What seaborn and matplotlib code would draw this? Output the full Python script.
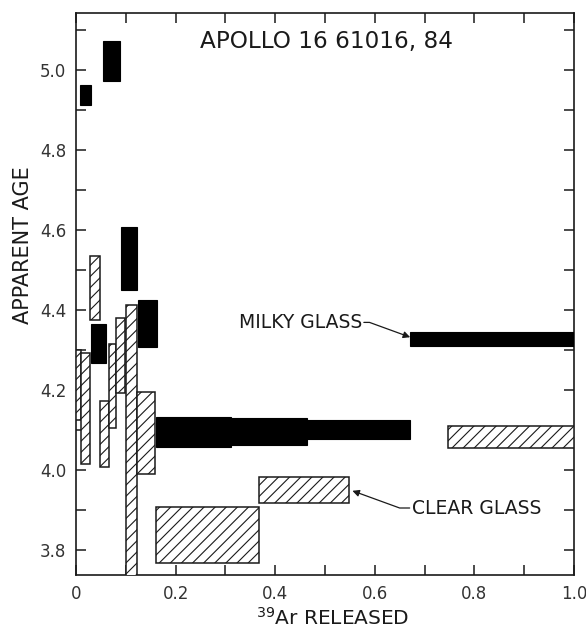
import matplotlib
matplotlib.use("Agg")
import matplotlib.pyplot as plt
import seaborn as sns

# ---- data: 39Ar release steps (fraction start/end) and apparent age range ----
milky_start = [0.009, 0.031, 0.055, 0.091, 0.125, 0.161, 0.311, 0.464, 0.671]
milky_end   = [0.031, 0.060, 0.089, 0.123, 0.163, 0.311, 0.464, 0.671, 1.000]
milky_low   = [4.913, 4.268, 4.973, 4.450, 4.308, 4.058, 4.063, 4.077, 4.310]
milky_high  = [4.962, 4.365, 5.073, 4.608, 4.425, 4.133, 4.129, 4.125, 4.346]

clear_start = [0.000, 0.011, 0.028, 0.049, 0.066, 0.081, 0.100, 0.122, 0.161, 0.368, 0.746]
clear_end   = [0.011, 0.028, 0.048, 0.066, 0.081, 0.099, 0.122, 0.159, 0.368, 0.549, 1.000]
clear_low   = [4.125, 4.015, 4.375, 4.008, 4.105, 4.193, 3.600, 3.990, 3.768, 3.917, 4.055]
clear_high  = [4.300, 4.293, 4.535, 4.173, 4.315, 4.380, 4.413, 4.195, 3.908, 3.983, 4.111]

x_ticks = [0, 0.2, 0.4, 0.6, 0.8, 1.0]
x_tick_labels = ["0", "0.2", "0.4", "0.6", "0.8", "1.0"]
y_ticks = [3.8, 4.0, 4.2, 4.4, 4.6, 4.8, 5.0]
y_tick_labels = ["3.8", "4.0", "4.2", "4.4", "4.6", "4.8", "5.0"]

title_text = "APOLLO 16 61016, 84"
milky_label = "MILKY GLASS"
clear_label = "CLEAR GLASS"
x_label = r"$^{39}$Ar RELEASED"
y_label = "APPARENT AGE"

# ---- style ----
sns.set_theme(style="ticks", rc={
    "xtick.direction": "in", "ytick.direction": "in",
    "xtick.top": True, "ytick.right": True,
    "axes.linewidth": 1.2, "hatch.linewidth": 0.8,
})
plt.rcParams["font.family"] = ["DejaVu Sans"]
ink = "#1a1a1a"

fig = plt.figure(figsize=(5.86, 6.35), dpi=100)
ax = fig.add_axes([76 / 586, 60 / 635, 498 / 586, 562 / 635])

# hatched clear-glass steps
ax.bar(clear_start, [h - l for h, l in zip(clear_high, clear_low)],
       width=[e - s for s, e in zip(clear_start, clear_end)], bottom=clear_low,
       align="edge", color="white", edgecolor=ink, linewidth=1.1, hatch="///",
       zorder=3)
# solid milky-glass steps
ax.bar(milky_start, [h - l for h, l in zip(milky_high, milky_low)],
       width=[e - s for s, e in zip(milky_start, milky_end)], bottom=milky_low,
       align="edge", color="black", edgecolor="black", linewidth=0.8, zorder=4)

ax.set_xlim(0, 1.0)
ax.set_ylim(3.7375, 5.1425)
ax.set_xticks(x_ticks)
ax.set_xticklabels(x_tick_labels)
ax.set_yticks(y_ticks)
ax.set_yticklabels(y_tick_labels)
ax.set_xticks([0.1, 0.3, 0.5, 0.7, 0.9], minor=True)
ax.set_yticks([3.9, 4.1, 4.3, 4.5, 4.7, 4.9, 5.1], minor=True)
ax.tick_params(which="both", direction="in", length=7, width=1.1, color=ink,
               top=True, right=True, labelsize=12, labelcolor="#333333", pad=7)
for s in ax.spines.values():
    s.set_color(ink)

ax.set_xlabel(x_label, fontsize=14.5, color=ink)
ax.set_ylabel(y_label, fontsize=15, color=ink)
ax.xaxis.set_label_coords(0.516, -0.056)
ax.yaxis.set_label_coords(-0.086, 0.587)

ax.text(0.503, 5.072, title_text, ha="center", va="center", fontsize=16.7, color=ink)

# annotations
ax.text(0.574, 4.369, milky_label, ha="right", va="center", fontsize=13.5, color=ink)
ax.annotate("", xy=(0.671, 4.332), xytext=(0.578, 4.369),
            arrowprops=dict(arrowstyle="-|>", lw=0.9, color=ink, mutation_scale=10,
                            shrinkA=0, shrinkB=0,
                            connectionstyle="angle,angleA=0,angleB=160,rad=0"))
ax.text(0.674, 3.905, clear_label, ha="left", va="center", fontsize=13.5, color=ink)
ax.annotate("", xy=(0.555, 3.948), xytext=(0.670, 3.905),
            arrowprops=dict(arrowstyle="-|>", lw=0.9, color=ink, mutation_scale=10,
                            shrinkA=0, shrinkB=0,
                            connectionstyle="angle,angleA=180,angleB=-20,rad=0"))

fig.savefig("out.png", dpi=100)
